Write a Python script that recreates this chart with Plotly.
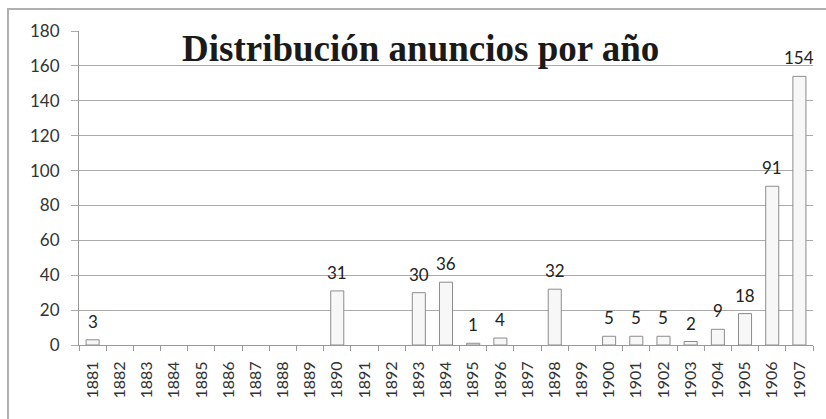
import plotly.graph_objects as go

# datos
anios = [str(a) for a in range(1881, 1908)]
anuncios = [3, 0, 0, 0, 0, 0, 0, 0, 0, 31, 0, 0, 30, 36, 1, 4, 0, 32, 0, 5, 5, 5, 2, 9, 18, 91, 154]
titulo = "Distribución anuncios por año"

# las barras con 0 no se dibujan ni se etiquetan
alturas = [v if v > 0 else None for v in anuncios]

fig = go.Figure()
fig.add_trace(go.Bar(
    x=anios,
    y=alturas,
    marker=dict(color="#f7f7f7", line=dict(color="#8c8c8c", width=1)),
    width=0.48,
    hoverinfo="x+y",
))

# etiquetas de valor encima de cada barra (x = índice de categoría)
notas = []
for i, v in enumerate(anuncios):
    if v > 0:
        notas.append(dict(
            x=i, y=v, xref="x", yref="y",
            text=str(v), showarrow=False,
            yanchor="bottom", yshift=6,
            font=dict(family="Lato", size=17, color="#222222"),
        ))

notas.append(dict(
    text="<b>" + titulo + "</b>",
    xref="paper", yref="paper",
    x=0.4646, y=0.943, xanchor="center", yanchor="middle",
    showarrow=False,
    font=dict(family="Liberation Serif", size=37, color="#1a1a1a"),
))

fig.update_layout(
    width=826, height=419,
    margin=dict(l=79, r=13, t=31, b=74),
    paper_bgcolor="white", plot_bgcolor="white",
    showlegend=False,
    xaxis=dict(
        type="category",
        range=[-0.5, len(anios) - 0.5],
        tickangle=-90,
        tickfont=dict(family="Lato", size=16, color="#333333"),
        ticks="outside", tickson="boundaries", ticklen=5, tickcolor="#999999",
        ticklabelstandoff=9,
        showline=True, linecolor="#999999", linewidth=1,
        showgrid=False,
    ),
    yaxis=dict(
        range=[0, 180],
        dtick=20,
        tickfont=dict(family="Lato", size=17, color="#333333"),
        ticks="outside", ticklen=7, tickcolor="#aaaaaa",
        ticklabelstandoff=8,
        showline=True, linecolor="#999999", linewidth=1,
        gridcolor="#aaaaaa", gridwidth=1,
        zeroline=False,
    ),
    annotations=notas,
    shapes=[dict(
        type="rect", xref="paper", yref="paper",
        x0=-0.0967, x1=1.2, y0=-0.5, y1=1.07,
        line=dict(color="#b0b0b0", width=2),
        layer="below",
    )],
)

fig.write_html("out.html", config={"displayModeBar": False},
               post_script="document.body.style.margin='0';")
